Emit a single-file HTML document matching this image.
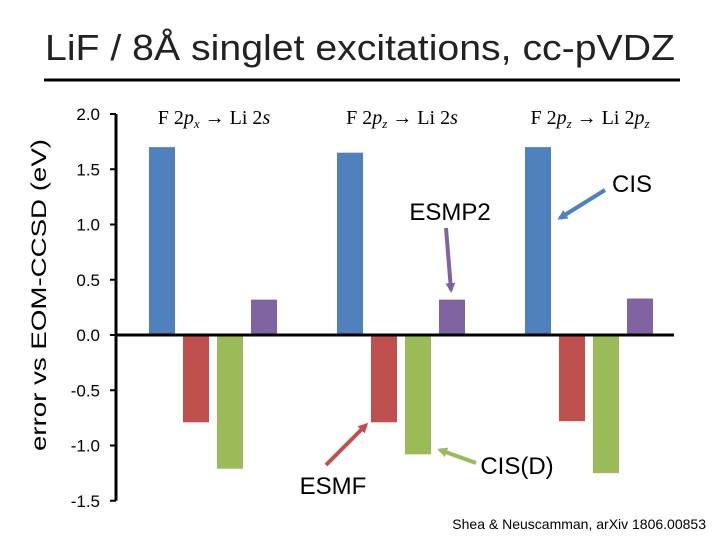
<!DOCTYPE html>
<html><head><meta charset="utf-8"><style>
body{margin:0;width:720px;height:540px;background:#fff;overflow:hidden;font-family:"Liberation Sans",sans-serif}
</style></head><body>
<svg width="720" height="540">
<defs>
<marker id="ab" markerWidth="10" markerHeight="10" refX="7" refY="5" orient="auto" markerUnits="userSpaceOnUse"><path d="M0,0 L10,5 L0,10 z" fill="#4f81bd"/></marker>
<marker id="ap" markerWidth="10" markerHeight="10" refX="7" refY="5" orient="auto" markerUnits="userSpaceOnUse"><path d="M0,0 L10,5 L0,10 z" fill="#8064a2"/></marker>
<marker id="ar" markerWidth="10" markerHeight="10" refX="7" refY="5" orient="auto" markerUnits="userSpaceOnUse"><path d="M0,0 L10,5 L0,10 z" fill="#c0504d"/></marker>
<marker id="ag" markerWidth="10" markerHeight="10" refX="7" refY="5" orient="auto" markerUnits="userSpaceOnUse"><path d="M0,0 L10,5 L0,10 z" fill="#9bbb59"/></marker>
</defs>
<text x="45" y="60" font-size="36" fill="#222" textLength="630" lengthAdjust="spacingAndGlyphs">LiF / 8Å singlet excitations, cc-pVDZ</text>
<line x1="44" y1="80" x2="680" y2="80" stroke="#000" stroke-width="3"/>
<text transform="translate(46,295) rotate(-90)" text-anchor="middle" font-size="21" fill="#000" textLength="312" lengthAdjust="spacingAndGlyphs">error vs EOM-CCSD (eV)</text>
<g id="plot"></g>
<g>
<text x="450" y="220" text-anchor="middle" font-size="24">ESMP2</text>
<line x1="446" y1="228" x2="451" y2="290" stroke="#8064a2" stroke-width="4" marker-end="url(#ap)"/>
<text x="632" y="192" text-anchor="middle" font-size="24">CIS</text>
<line x1="605" y1="190" x2="560" y2="218" stroke="#4f81bd" stroke-width="4" marker-end="url(#ab)"/>
<text x="333" y="494" text-anchor="middle" font-size="24">ESMF</text>
<line x1="326" y1="465" x2="366" y2="425" stroke="#c0504d" stroke-width="4" marker-end="url(#ar)"/>
<text x="517" y="474" text-anchor="middle" font-size="24">CIS(D)</text>
<line x1="476" y1="463" x2="440" y2="450" stroke="#9bbb59" stroke-width="4" marker-end="url(#ag)"/>
<text x="706" y="529" text-anchor="end" font-size="14">Shea &amp; Neuscamman, arXiv 1806.00853</text>
</g>
</svg>
<script>
const categories=["F 2p_x → Li 2s","F 2p_z → Li 2s","F 2p_z → Li 2p_z"];
const seriesNames=["CIS","ESMF","CIS(D)","ESMP2"];
const cis=[1.70,1.65,1.70];
const esmf=[-0.79,-0.79,-0.78];
const cisd=[-1.21,-1.08,-1.25];
const esmp2=[0.32,0.32,0.33];
const yTicks=[2.0,1.5,1.0,0.5,0.0,-0.5,-1.0,-1.5];
const ns="http://www.w3.org/2000/svg";
const g=document.getElementById('plot');
const y=v=>335-v*110.5;
const x0=116,groupW=188;
function mk(t,a){const e=document.createElementNS(ns,t);for(const k in a)e.setAttribute(k,a[k]);g.appendChild(e);return e;}
const colors=["#4f81bd","#c0504d","#9bbb59","#8064a2"];
const series=[cis,esmf,cisd,esmp2];
series.forEach((s,si)=>{s.forEach((v,ci)=>{
 const bx=x0+33+ci*groupW+si*34;
 const r=mk('rect',{x:bx,y:Math.min(y(v),y(0)),width:26,height:Math.abs(y(v)-y(0)),fill:colors[si]});
 
 
});});
const ax=mk('line',{x1:x0,y1:y(2),x2:x0,y2:y(-1.5),stroke:'#000','stroke-width':3});


const zx=mk('line',{x1:x0,y1:y(0),x2:674,y2:y(0),stroke:'#000','stroke-width':3});


yTicks.forEach(t=>{
 mk('line',{x1:x0-6,y1:y(t),x2:x0,y2:y(t),stroke:'#000','stroke-width':2});
 const tx=mk('text',{x:x0-16,y:y(t)+6,'text-anchor':'end','font-size':17});
 tx.textContent=t.toFixed(1);
 
 
});
categories.forEach((c,i)=>{
 const m=c.match(/F 2p_(\w) → Li 2(\w)(?:_(\w))?/);
 const t=mk('text',{x:x0+98+i*groupW,y:124,'text-anchor':'middle','font-size':20,'font-family':'Liberation Serif, serif'});
 let html='F 2<tspan font-style="italic">p</tspan><tspan font-style="italic" font-size="13" dy="4">'+m[1]+'</tspan><tspan dy="-4"> → Li 2</tspan><tspan font-style="italic">'+(m[2]==='p'?'p':'s')+'</tspan>';
 if(m[3])html+='<tspan font-style="italic" font-size="13" dy="4">'+m[3]+'</tspan>';
 t.innerHTML=html;
 
 
});
</script>
</body></html>
